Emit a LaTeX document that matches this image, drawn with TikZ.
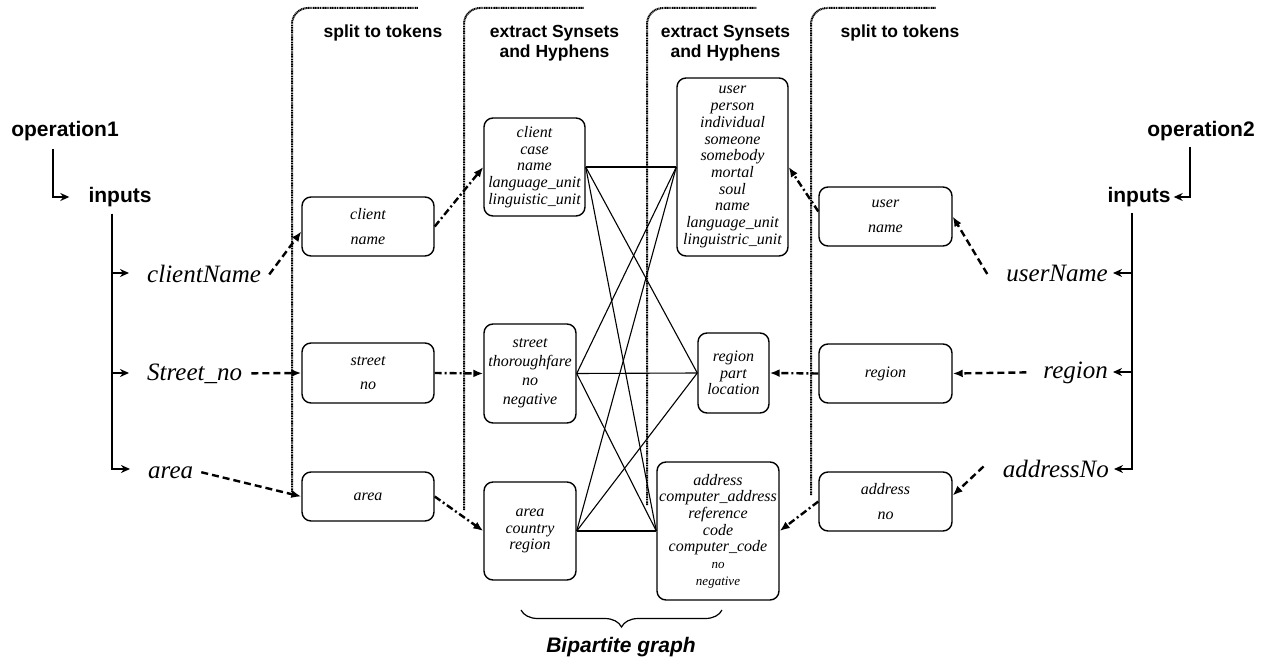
\documentclass[tikz,border=0pt]{standalone}
\usepackage{fontspec}
\setmainfont{Liberation Serif}
\newfontfamily\arialf{Liberation Sans}
\usetikzlibrary{arrows.meta,decorations.pathreplacing,calc}
\begin{document}
\begin{tikzpicture}[x=1pt,y=-1pt,
 box/.style={draw,line width=1.4pt,rounded corners=9pt,inner sep=0pt,align=center,font=\fontsize{16}{16.7}\selectfont\itshape},
 hdr/.style={font=\arialf\bfseries\fontsize{17.5}{20}\selectfont,align=center,inner sep=0pt},
 op/.style={font=\arialf\bfseries\fontsize{21}{24}\selectfont,inner sep=0pt},
 lbl/.style={font=\fontsize{25}{28}\selectfont\itshape,inner sep=0pt},
 panel/.style={line width=2pt,dash pattern=on 1.1pt off 0.6pt,rounded corners=16pt},
 treearr/.style={line width=2.4pt,-{Stealth[length=9pt,width=8pt]}},
 dsh/.style={line width=2.4pt,dash pattern=on 7pt off 4pt,-{Latex[length=10pt,width=8pt]}},
 dshdot/.style={line width=2.4pt,dash pattern=on 7pt off 3pt on 2pt off 3pt,-{Latex[length=10pt,width=8pt]}},
 bip/.style={line width=1.1pt}
]
\path[use as bounding box] (0,0) rectangle (1274,660);

% panels
\draw[panel] (292,492) -- (292,8) -- (418,8);
\draw[panel] (464,510) -- (464,8) -- (584,8);
\draw[panel] (647,505) -- (647,8) -- (757,8);
\draw[panel] (811,495) -- (811,8) -- (936,8);

% headers
\node[hdr] (h1) at (383,33) {split to tokens};
\node[hdr] (h2) at (554.5,43) {extract Synsets\\and Hyphens};
\node[hdr] (h3) at (725.5,43) {extract Synsets\\and Hyphens};
\node[hdr] (h4) at (900,33) {split to tokens};

% left operation
\node[op] (op1) at (65,131) {operation1};
\node[op] (in1) at (120,197) {inputs};
\node[lbl,anchor=base west] (cn) at (147,283) {clientName};
\node[lbl,anchor=base west] (sn) at (147,380) {Street\_no};
\node[lbl,anchor=base west] (ar) at (148,478) {area};

\coordinate (t1) at (53,149);
\draw[treearr] (t1) |- ([xshift=-19pt]in1.west);
\coordinate (v1) at (112,214);
\draw[treearr] (v1) |- ([xshift=-18pt,yshift=10pt]cn.base west);
\draw[treearr] (v1) |- ([xshift=-18pt,yshift=7pt]sn.base west);
\draw[treearr] (v1) |- ([xshift=-18pt,yshift=9pt]ar.base west);

% right operation
\node[op] (op2) at (1201,131) {operation2};
\node[op] (in2) at (1139,197) {inputs};
\node[lbl,anchor=base east] (un) at (1108,282) {userName};
\node[lbl,anchor=base east] (rg) at (1108,378) {region};
\node[lbl,anchor=base east] (an) at (1109,477) {addressNo};

\coordinate (t2) at (1190,147);
\draw[treearr] (t2) |- ([xshift=3pt]in2.east);
\coordinate (v2) at (1132,213);
\draw[treearr] (v2) |- ([xshift=5pt,yshift=9pt]un.base east);
\draw[treearr] (v2) |- ([xshift=5pt,yshift=6pt]rg.base east);
\draw[treearr] (v2) |- ([xshift=5pt,yshift=8pt]an.base east);

% token boxes
\node[box,minimum width=132pt,minimum height=59pt] (B1) at (368,226.5) {client\\[8pt]name};
\node[box,minimum width=132pt,minimum height=60pt] (B2) at (368,373) {street\\[8pt]no};
\node[box,minimum width=132pt,minimum height=49pt] (B3) at (368,496.5) {area};
\node[box,minimum width=133pt,minimum height=59pt] (B4) at (885.5,216.5) {user\\[8pt]name};
\node[box,minimum width=133pt,minimum height=59pt] (B5) at (885.5,373.5) {region};
\node[box,minimum width=133pt,minimum height=59pt] (B6) at (885.5,501.5) {address\\[8pt]no};

% synset boxes
\node[box,minimum width=101pt,minimum height=98pt] (L1) at (534.5,167) {client\\case\\name\\language\_unit\\linguistic\_unit};
\node[box,minimum width=92pt,minimum height=99pt,font=\fontsize{16}{19}\selectfont\itshape] (L2) at (530,373.5) {street\\thoroughfare\\no\\negative};
\node[box,minimum width=92pt,minimum height=98pt] (L3) at (530,531) {area\\country\\region};
\node[box,minimum width=111pt,minimum height=178pt] (R1) at (732.5,167) {user\\person\\individual\\someone\\somebody\\mortal\\soul\\name\\language\_unit\\linguistric\_unit};
\node[box,minimum width=71pt,minimum height=80pt] (R2) at (733.5,373) {region\\part\\location};
\node[box,minimum width=122pt,minimum height=138pt] (R3) at (718,531) {address\\computer\_address\\reference\\code\\computer\_code\\{\fontsize{13}{16.7}\selectfont no}\\{\fontsize{13}{16.7}\selectfont negative}};

% bipartite
\foreach \l in {L1,L2,L3}{
  \foreach \r in {R1,R2,R3}{
    \draw[bip] (\l.east) -- (\r.west);
  }
}

% connectors
\draw[dsh] ([xshift=8pt]cn.east) -- ([yshift=-5pt]B1.west);
\draw[dsh] ([xshift=9pt]sn.east) -- (B2.west);
\draw[dsh] ([xshift=8pt]ar.east) -- (B3.west);
\draw[dshdot] (B1.east) -- (L1.west);
\draw[dshdot] (B2.east) -- (L2.west);
\draw[dshdot] (B3.east) -- (L3.west);

\draw[dsh] ([xshift=-19pt]un.west) -- (B4.east);
\draw[dsh] ([xshift=-17pt]rg.west) -- (B5.east);
\draw[dsh] ([xshift=-19pt,yshift=2pt]an.west) -- ([yshift=6pt]B6.east);
\draw[dshdot] ([yshift=5pt]B4.west) -- (R1.east);
\draw[dshdot] (B5.west) -- (R2.east);
\draw[dshdot] (B6.west) -- (R3.east);

% brace
\draw[line width=1.2pt,decorate,decoration={brace,amplitude=17pt,mirror}] (521,610) -- (722,610);
\node[font=\arialf\bfseries\itshape\fontsize{21}{24}\selectfont,inner sep=0pt] (bg) at (621,647) {Bipartite graph};
\end{tikzpicture}
\end{document}
